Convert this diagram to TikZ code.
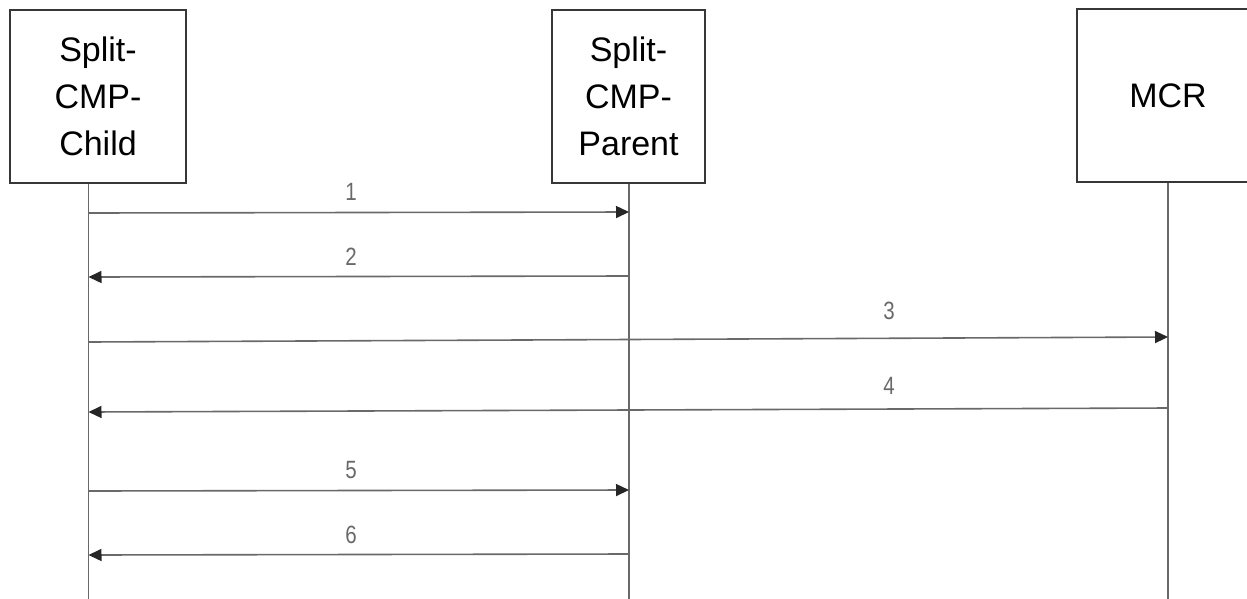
\documentclass[tikz,border=0pt]{standalone}
\usepackage{fontspec}
\setmainfont{Liberation Sans}
\usetikzlibrary{arrows.meta}
\definecolor{linegray}{RGB}{105,105,105}
\definecolor{boxline}{RGB}{55,55,55}
\begin{document}
\begin{tikzpicture}[x=1pt,y=-1pt,
  actor/.style={draw=boxline, line width=1.5pt, fill=white, minimum height=173pt, inner sep=0pt, align=center, font=\fontsize{34}{47}\selectfont},
  lifeline/.style={draw=linegray, line width=1.6pt},
  msg/.style={draw=linegray, line width=1.6pt, -{Triangle[length=13pt,width=12pt,color=black!85]}},
  lbl/.style={font=\fontsize{25}{25}\selectfont, text=linegray, inner sep=0pt, xscale=0.82}]
\useasboundingbox (0,0) rectangle (1247,598);
% lifelines
\coordinate (l1top) at (88.5,183);
\coordinate (l1bot) at (88.5,600);
\coordinate (l2top) at (629,183);
\coordinate (l2bot) at (629,600);
\coordinate (l3top) at (1168,182);
\coordinate (l3bot) at (1168,600);
\draw[lifeline] (l1top) -- (l1bot);
\draw[lifeline] (l2top) -- (l2bot);
\draw[lifeline] (l3top) -- (l3bot);
% actors
\node[actor, minimum width=176pt] (child) at (98,96.5) {Split-\\CMP-\\Child};
\node[actor, minimum width=153pt] (parent) at (628.5,96.5) {Split-\\CMP-\\Parent};
\node[actor, minimum width=182pt] (mcr) at (1168,95.5) {MCR};
% message endpoints
\coordinate (m1a) at (88.5,213); \coordinate (m1b) at (629,212);
\coordinate (m2a) at (629,276);  \coordinate (m2b) at (88.5,277);
\coordinate (m3a) at (88.5,342); \coordinate (m3b) at (1168,337);
\coordinate (m4a) at (1168,408); \coordinate (m4b) at (88.5,412);
\coordinate (m5a) at (88.5,491); \coordinate (m5b) at (629,490);
\coordinate (m6a) at (629,554);  \coordinate (m6b) at (88.5,555);
% messages
\draw[msg] (m1a) -- (m1b);
\draw[msg] (m2a) -- (m2b);
\draw[msg] (m3a) -- (m3b);
\draw[msg] (m4a) -- (m4b);
\draw[msg] (m5a) -- (m5b);
\draw[msg] (m6a) -- (m6b);
% labels
\node[lbl] (t1) at (351,192) {1};
\node[lbl] (t2) at (351,257) {2};
\node[lbl] (t3) at (889,311) {3};
\node[lbl] (t4) at (889,386) {4};
\node[lbl] (t5) at (351,470) {5};
\node[lbl] (t6) at (351,535) {6};
\end{tikzpicture}
\end{document}
